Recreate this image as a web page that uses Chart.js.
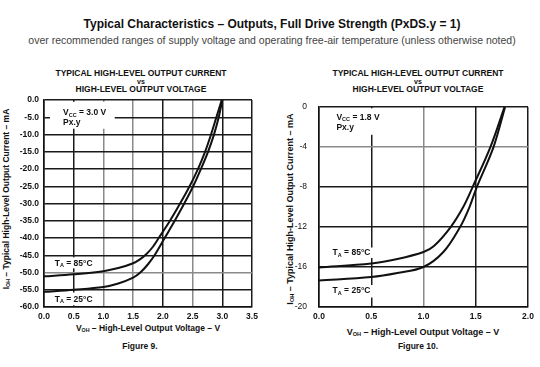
<!DOCTYPE html>
<html>
<head>
<meta charset="utf-8">
<script src="https://cdn.jsdelivr.net/npm/chart.js@4.4.1/dist/chart.umd.min.js"></script>
<style>
body{margin:0;width:540px;height:367px;background:#fff;position:relative;overflow:hidden;font-family:"Liberation Sans",Arial,sans-serif;color:#111}
.t{position:absolute;white-space:nowrap;text-align:center;line-height:1;transform:translate(-50%,-50%)}
.b{font-weight:bold}
.rot{transform:translate(-50%,-50%) rotate(-90deg)}
sub{font-size:62%;vertical-align:-1px;line-height:0}
canvas{position:absolute}
</style>
</head>
<body>

<div class="t b" style="left:272px;top:24px;font-size:12px">Typical Characteristics – Outputs, Full Drive Strength (PxDS.y = 1)</div>
<div class="t" style="left:272px;top:40px;font-size:10.5px;color:#444">over recommended ranges of supply voltage and operating free-air temperature (unless otherwise noted)</div>

<div class="t b" style="left:141px;top:73px;font-size:8.5px">TYPICAL HIGH-LEVEL OUTPUT CURRENT</div>
<div class="t b" style="left:141px;top:81px;font-size:7px">vs</div>
<div class="t b" style="left:141px;top:89px;font-size:8.5px">HIGH-LEVEL OUTPUT VOLTAGE</div>

<div class="t b" style="left:418px;top:73px;font-size:8.5px">TYPICAL HIGH-LEVEL OUTPUT CURRENT</div>
<div class="t b" style="left:418px;top:81px;font-size:7px">vs</div>
<div class="t b" style="left:418px;top:89px;font-size:8.5px">HIGH-LEVEL OUTPUT VOLTAGE</div>

<div class="t b rot" style="left:6px;top:199px;font-size:8.5px">I<sub>OH</sub> – Typical High-Level Output Current – mA</div>
<div class="t b rot" style="left:290px;top:209px;font-size:9px">I<sub>OH</sub> – Typical High-Level Output Current – mA</div>

<div class="t b" style="left:148px;top:328px;font-size:8.5px">V<sub>OH</sub> – High-Level Output Voltage – V</div>
<div class="t b" style="left:140px;top:346px;font-size:8.5px">Figure 9.</div>
<div class="t b" style="left:423px;top:332px;font-size:9px">V<sub>OH</sub> – High-Level Output Voltage – V</div>
<div class="t b" style="left:418px;top:346px;font-size:8.5px">Figure 10.</div>

<canvas id="fig9" width="272" height="240" style="left:0;top:90px"></canvas>
<canvas id="fig10" width="268" height="240" style="left:272px;top:90px"></canvas>

<script>

// FIGURE 9 DATA (VCC = 3.0 V)

const fig9XTicks = [0,0.5,1,1.5,2,2.5,3,3.5]
const fig9YTicks = [0,-5,-10,-15,-20,-25,-30,-35,-40,-45,-50,-55,-60]

const fig9Volt85 = [0,0.5,1.0,1.25,1.5,1.62,1.72,1.83,1.93,2.12,2.29,2.45,2.59,2.71,2.81,2.9,2.99]
const fig9Curr85 = [-51.1,-50.5,-49.6,-48.7,-47.3,-46.1,-44.7,-42.6,-40,-35,-30,-25,-20,-15,-10,-5,0]

const fig9Volt25 = [0,0.5,1.0,1.25,1.5,1.62,1.75,1.86,2.03,2.2,2.36,2.51,2.64,2.76,2.86,2.94,3.0]
const fig9Curr25 = [-55.6,-55,-54.2,-53.2,-51.5,-50,-47.6,-45,-40,-35,-30,-25,-20,-15,-10,-5,0]


// FIGURE 10 DATA (VCC = 1.8 V)

const fig10XTicks = [0,0.5,1,1.5,2]
const fig10YTicks = [0,-4,-8,-12,-16,-20]

const fig10Volt85 = [0,0.5,0.75,1.0,1.1,1.26,1.38,1.47,1.64,1.775]
const fig10Curr85 = [-16.05,-15.65,-15.2,-14.5,-13.9,-12,-10,-8,-4,0]

const fig10Volt25 = [0,0.5,0.75,1.0,1.19,1.35,1.44,1.51,1.67,1.78]
const fig10Curr25 = [-17.35,-17.0,-16.6,-16.0,-14.5,-12,-10,-8,-4,0]


const FONT = '"Liberation Sans", Arial, sans-serif'

const pts = (xs,ys)=>xs.map((v,i)=>({x:v,y:ys[i]}))


// text notes with white boxes, drawn over the grid but under the curves

const notes = {
id:'notes',
beforeDatasetsDraw(chart,args,opts){
const {ctx} = chart
const x = chart.scales.x
const y = chart.scales.y
ctx.save()
ctx.fillStyle = '#fff'
opts.boxes.forEach(b=>{
const x0 = x.getPixelForValue(b[0]), x1 = x.getPixelForValue(b[1])
const y0 = y.getPixelForValue(b[2]), y1 = y.getPixelForValue(b[3])
ctx.fillRect(x0,y0,x1-x0,y1-y0)
})
ctx.fillStyle = '#111'
ctx.textBaseline = 'middle'
opts.labels.forEach(l=>{
let px = x.getPixelForValue(l.at[0])
const py = y.getPixelForValue(l.at[1])
l.parts.forEach(p=>{
const sub = p.startsWith('_')
const s = sub ? p.slice(1) : p
ctx.font = 'bold ' + (sub ? 5.5 : 8.5) + 'px ' + FONT
ctx.fillText(s, px, sub ? py + 2.5 : py)
px += ctx.measureText(s).width
})
})
ctx.restore()
}
}


function gridColor(gray){
return c => gray.includes(c.tick.value) ? '#8a8a8a' : '#1a1a1a'
}

function makeChart(id, d){

return new Chart(document.getElementById(id),{
type:'line',
data:{
datasets:[
{label:'TA = 85°C', data:pts(d.v85,d.c85), borderColor:'#111', borderWidth:2, pointRadius:0, tension:0.35},
{label:'TA = 25°C', data:pts(d.v25,d.c25), borderColor:'#111', borderWidth:2, pointRadius:0, tension:0.35}
]
},
options:{
responsive:false,
animation:false,
layout:{padding:d.pad},
plugins:{
legend:{display:false},
tooltip:{enabled:false},
notes:d.notes
},
scales:{
x:{
type:'linear',
min:d.xTicks[0], max:d.xTicks[d.xTicks.length-1],
afterBuildTicks:s=>{ s.ticks = d.xTicks.map(v=>({value:v})) },
afterFit:s=>{ s.height = 23 },
grid:{color:gridColor(d.xGray), lineWidth:1.5, drawTicks:false},
border:{color:'#111', width:1.5},
ticks:{padding:5, color:'#111', font:{family:FONT, size:8.5, weight:'bold'}, callback:v=>v.toFixed(1)}
},
y:{
type:'linear',
min:d.yTicks[d.yTicks.length-1], max:d.yTicks[0],
afterBuildTicks:s=>{ s.ticks = d.yTicks.map(v=>({value:v})) },
afterFit:s=>{ s.width = d.yWidth },
grid:{color:gridColor(d.yGray), lineWidth:1.5, drawTicks:false},
border:{color:'#111', width:1.5},
ticks:{padding:d.yPad, color:'#111', font:{family:FONT, size:8.5, weight:d.yWeight}, callback:d.yFmt}
}
}
},
plugins:[notes]
})

}


// FIGURE 9

makeChart('fig9',{
v85:fig9Volt85, c85:fig9Curr85, v25:fig9Volt25, c25:fig9Curr25,
xTicks:fig9XTicks, yTicks:fig9YTicks,
xGray:[1,1.5,2.5], yGray:[-50],
pad:{left:0, top:9, right:20, bottom:0},
yWidth:44, yPad:5, yWeight:'bold',
yFmt:v=>v.toFixed(1),
notes:{
boxes:[[0.1,1.19,-0.5,-8.3],[0.13,0.87,-45.6,-48.8],[0.13,0.87,-55.8,-59.5]],
labels:[
{at:[0.32,-3.6], parts:['V','_CC',' = 3.0 V']},
{at:[0.32,-6.5], parts:['Px.y']},
{at:[0.18,-47.3], parts:['T','_A',' = 85°C']},
{at:[0.18,-57.8], parts:['T','_A',' = 25°C']}
]
}
})


// FIGURE 10

makeChart('fig10',{
v85:fig10Volt85, c85:fig10Curr85, v25:fig10Volt25, c25:fig10Curr25,
xTicks:fig10XTicks, yTicks:fig10YTicks,
xGray:[1], yGray:[-4],
pad:{left:0, top:9, right:12, bottom:0},
yWidth:47, yPad:12, yWeight:'normal',
yFmt:v=>String(v),
notes:{
boxes:[[0.1,0.63,-0.12,-2.77],[0.1,0.53,-14.05,-15.1],[0.1,0.53,-17.8,-19.05]],
labels:[
{at:[0.167,-1.03], parts:['V','_CC',' = 1.8 V']},
{at:[0.167,-2.06], parts:['Px.y']},
{at:[0.13,-14.6], parts:['T','_A',' = 85°C']},
{at:[0.13,-18.4], parts:['T','_A',' = 25°C']}
]
}
})

</script>
</body>
</html>
